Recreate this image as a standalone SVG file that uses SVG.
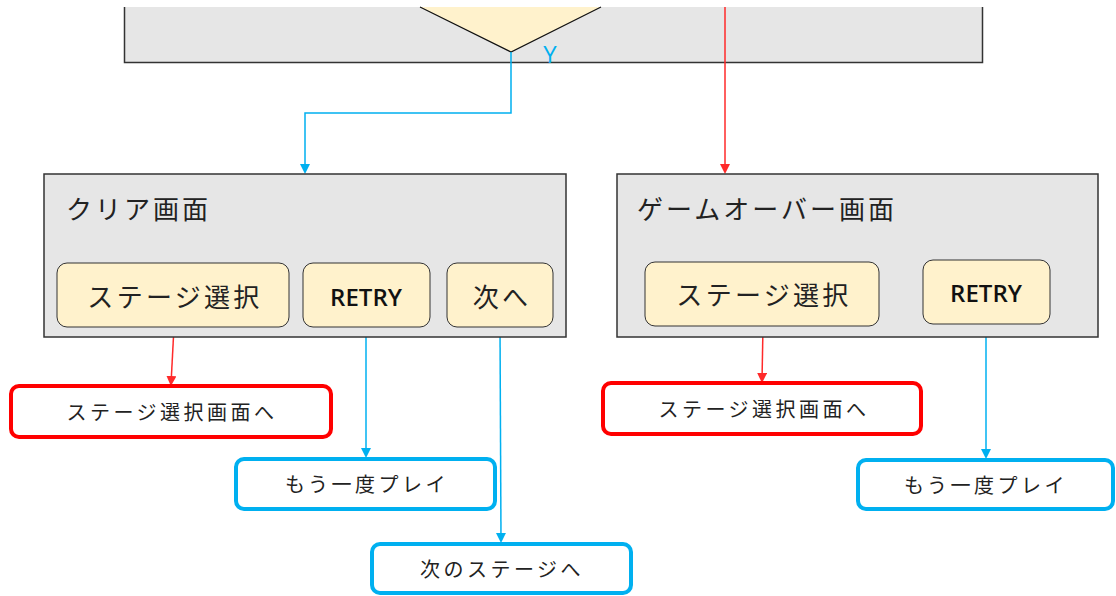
<svg xmlns="http://www.w3.org/2000/svg" width="1116" height="596" viewBox="0 0 1116 596">
<defs>
<style>
.panel{fill:#e6e6e6;stroke:#333;stroke-width:1.5}
.btn{fill:#fff2cc;stroke:#333;stroke-width:1}
.jp{font-family:"Noto Sans CJK JP","Noto Sans",sans-serif;fill:#222;dominant-baseline:central}
.title{font-size:26px;letter-spacing:3px}
.btxt{font-size:26px;letter-spacing:3.3px;text-anchor:middle}
.otxt{font-size:20px;letter-spacing:3.5px;text-anchor:middle}
.en{font-family:"Open Sans","Liberation Sans",sans-serif;font-weight:600;font-size:24px;fill:#111;text-anchor:middle;dominant-baseline:central}
.red{fill:#fff;stroke:#ff0000;stroke-width:4}
.blue{fill:#fff;stroke:#00b0f0;stroke-width:4}
.cr{fill:none;stroke:#ff2a2a;stroke-width:1.5}
.cb{fill:none;stroke:#00b0f0;stroke-width:1.5}
</style>
<marker id="ar" markerWidth="10" markerHeight="10" refX="8" refY="5" orient="auto" markerUnits="userSpaceOnUse" viewBox="0 0 10 10"><path d="M0,0 L10,5 L0,10 z" fill="#ff2a2a"/></marker>
<marker id="ab" markerWidth="10" markerHeight="10" refX="8" refY="5" orient="auto" markerUnits="userSpaceOnUse" viewBox="0 0 10 10"><path d="M0,0 L10,5 L0,10 z" fill="#00b0f0"/></marker>
</defs>
<g id="top-panel">
<rect x="124" y="7" width="859" height="56" fill="#e6e6e6"/>
<path d="M124.5,7 V62.5 H982.5 V7" fill="none" stroke="#333" stroke-width="1.5"/>
<path d="M420,7 L511,52 L601,7 Z" fill="#fff2cc"/>
<path d="M420,7 L511,52 L601,7" fill="none" stroke="#111" stroke-width="1.2"/>
<text x="550" y="53" font-family="Open Sans,Liberation Sans,sans-serif" font-size="24" fill="#00b0f0" text-anchor="middle" dominant-baseline="central">Y</text>
</g>
<g id="connectors">
<path class="cb" d="M511,52 V113 H305 V172" marker-end="url(#ab)"/>
<path class="cr" d="M725,7 V172" marker-end="url(#ar)"/>
<path class="cr" d="M174,327 L171,384" marker-end="url(#ar)"/>
<path class="cb" d="M366,327 V456" marker-end="url(#ab)"/>
<path class="cb" d="M500,327 L501,541" marker-end="url(#ab)"/>
<path class="cr" d="M763,326 L762,381" marker-end="url(#ar)"/>
<path class="cb" d="M986,324 V457" marker-end="url(#ab)"/>
</g>
<g id="clear-screen">
<rect class="panel" x="44" y="174" width="522" height="163"/>
<text class="jp title" x="66" y="207">クリア画面</text>
</g>
<g id="clear-stage-select">
<rect class="btn" x="57" y="263" width="232" height="64" rx="10"/>
<text class="jp btxt" x="175" y="295">ステージ選択</text>
</g>
<g id="clear-retry">
<rect class="btn" x="303" y="263" width="127" height="64" rx="10"/>
<text class="en" x="366" y="296">RETRY</text>
</g>
<g id="clear-next">
<rect class="btn" x="447" y="263" width="106" height="64" rx="10"/>
<text class="jp btxt" x="502" y="295">次へ</text>
</g>
<g id="gameover-screen">
<rect class="panel" x="617" y="174" width="481" height="163"/>
<text class="jp title" x="637" y="207">ゲームオーバー画面</text>
</g>
<g id="gameover-stage-select">
<rect class="btn" x="645" y="262" width="234" height="64" rx="10"/>
<text class="jp btxt" x="764" y="293">ステージ選択</text>
</g>
<g id="gameover-retry">
<rect class="btn" x="923" y="260" width="127" height="64" rx="10"/>
<text class="en" x="986" y="292">RETRY</text>
</g>
<g id="to-stage-select-1">
<rect class="red" x="11" y="386" width="320" height="51" rx="8"/>
<text class="jp otxt" x="172" y="411">ステージ選択画面へ</text>
</g>
<g id="play-again-1">
<rect class="blue" x="236" y="459" width="259" height="50" rx="8"/>
<text class="jp otxt" x="367" y="483">もう一度プレイ</text>
</g>
<g id="next-stage">
<rect class="blue" x="372" y="544" width="259" height="49" rx="8"/>
<text class="jp otxt" x="502" y="568">次のステージへ</text>
</g>
<g id="to-stage-select-2">
<rect class="red" x="603" y="383" width="318" height="51" rx="8"/>
<text class="jp otxt" x="764" y="408">ステージ選択画面へ</text>
</g>
<g id="play-again-2">
<rect class="blue" x="858" y="460" width="255" height="49" rx="8"/>
<text class="jp otxt" x="986" y="484">もう一度プレイ</text>
</g>
</svg>
